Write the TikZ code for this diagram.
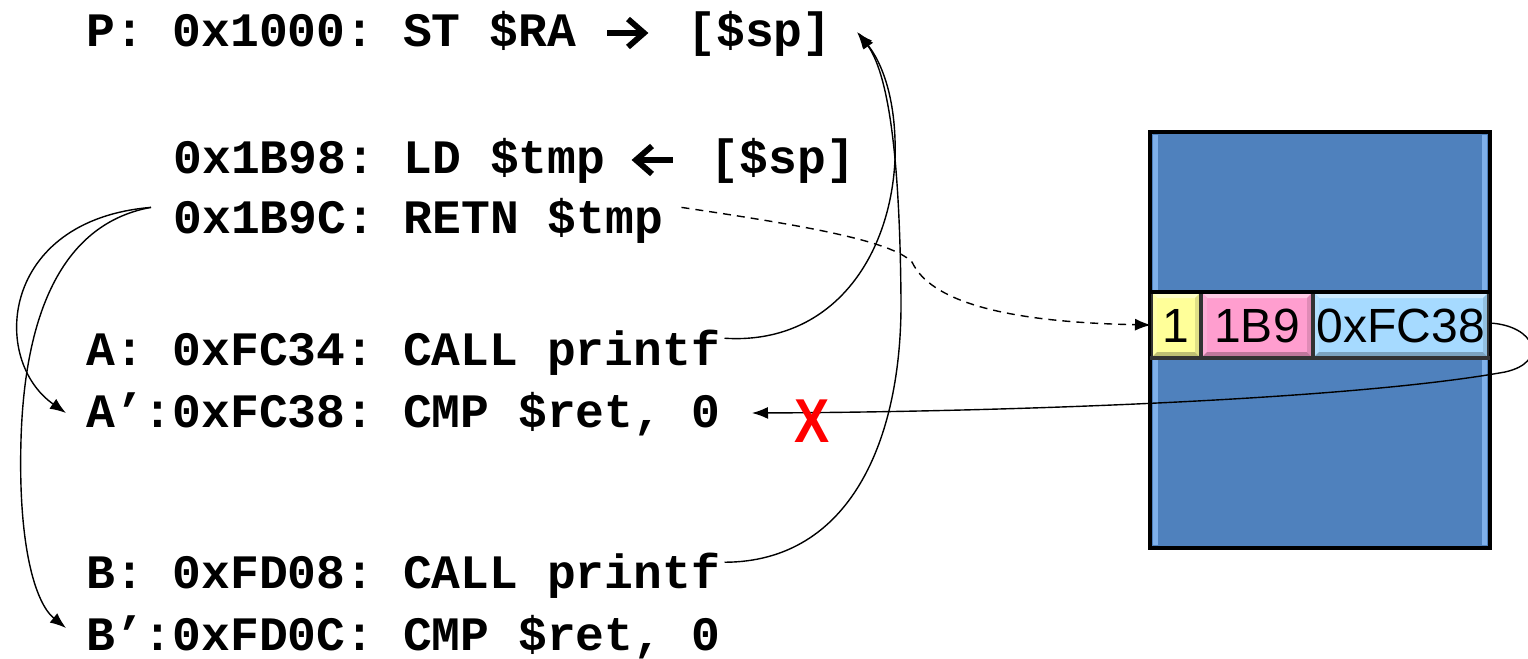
\documentclass[tikz,border=0pt]{standalone}
\usepackage{fontspec}
\setmainfont{Liberation Sans}
\newfontfamily\codefont{Liberation Mono}
\usetikzlibrary{arrows.meta,calc}
\definecolor{stackblue}{HTML}{4F81BD}
\definecolor{stackedge}{HTML}{7FB0EA}
\definecolor{cellyellow}{HTML}{FFFF99}
\definecolor{cellpink}{HTML}{FF9ECF}
\definecolor{cellblue}{HTML}{A6DAFF}
\newcommand{\gap}[1]{\hbox to #1{\hss}}
% bevelled cell: x1 y1 x2 y2 colour
\newcommand{\bevelcell}[5]{%
  \fill[#5] (#1,#2) rectangle (#3,#4);
  \fill[#5!55!white] (#1,#2) -- (#3,#2) -- ($(#3,#2)+(-5,5)$) -- ($(#1,#2)+(5,5)$) -- cycle;
  \fill[#5!85!white] (#1,#2) -- ($(#1,#2)+(5,5)$) -- ($(#1,#4)+(5,-5)$) -- (#1,#4) -- cycle;
  \fill[#5!75!black] (#1,#4) -- (#3,#4) -- ($(#3,#4)+(-5,-5)$) -- ($(#1,#4)+(5,-5)$) -- cycle;
  \fill[#5!88!black] (#3,#2) -- ($(#3,#2)+(-5,5)$) -- ($(#3,#4)+(-5,-5)$) -- (#3,#4) -- cycle;
  \draw[black!80,line width=1.2pt] (#1,#2) rectangle (#3,#4);
}
\begin{document}
\frenchspacing
\begin{tikzpicture}[x=0.5pt,y=-0.5pt,
  code/.style={anchor=base west,inner sep=0pt,font=\codefont\bfseries\fontsize{24}{28}\selectfont},
  celltext/.style={anchor=base,inner sep=0pt,font=\fontsize{24}{28}\selectfont},
  conn/.style={line width=0.7pt},
  glyph/.style={line width=2.9pt,miter limit=10},
  tip/.style={-{Latex[length=8pt,width=6pt]}}]
\useasboundingbox (0,0) rectangle (1528,659);
% code lines
\node[code] (P) at (86,46) {P: 0x1000: ST \$RA \gap{27pt} [\$sp]};
\node[code] (LD) at (173,173) {0x1B98: LD \$tmp \gap{24pt} [\$sp]};
\node[code] (RET) at (173,233) {0x1B9C: RETN \$tmp};
\node[code] (A) at (86,365) {A: 0xFC34: CALL printf};
\node[code] (A2) at (86,427) {A’:0xFC38: CMP \$ret, 0};
\node[code] (B) at (86,588) {B: 0xFD08: CALL printf};
\node[code] (B2) at (86,650) {B’:0xFD0C: CMP \$ret, 0};
% arrow glyphs inside the code text
\draw[glyph] (607,33) -- (642,33);
\draw[glyph] (628,19) -- (644,33) -- (628,47);
\draw[glyph] (638,160) -- (673,160);
\draw[glyph] (652,146) -- (636,160) -- (652,174);
% stack
\draw[fill=stackblue,line width=1.6pt] (1150,132) rectangle (1490,548);
\fill[stackedge] (1153,135) rectangle (1158,545);
\fill[stackedge] (1482,135) rectangle (1487,545);
\bevelcell{1152}{293}{1200}{357}{cellyellow}
\bevelcell{1202}{293}{1312}{357}{cellpink}
\bevelcell{1314}{293}{1488}{357}{cellblue}
\draw[line width=1.6pt] (1150,292) -- (1490,292);
\draw[line width=1.6pt,black!80] (1150,358) -- (1490,358);
\node[celltext] (c1) at (1176,342) {1};
\node[celltext] (c2) at (1257,342) {1B9};
\node[celltext] (c3) at (1401,342) {0xFC38};
\coordinate (c1w) at (1151,325);
\coordinate (c3e) at (1489,323);
% connectors
\draw[conn,tip] (A.east) ++(4,-14) coordinate (Ae)
   .. controls (830,345) and (890,260) .. (895,160)
   .. controls (897,100) and (882,62) .. (857,32) coordinate (Pe);
\draw[conn,tip] (B.east) ++(4,-13) coordinate (Be)
   .. controls (850,562) and (902,440) .. (901,300)
   .. controls (900,180) and (892,80) .. (859,33);
\draw[conn,tip] (RET.west) ++(-22,-13) coordinate (Rw)
   .. controls (0,220) and (-10,360) .. (66,413);
\draw[conn,tip] (Rw)
   .. controls (70,222) and (25,300) .. (21,440)
   .. controls (18,545) and (35,603) .. (66,628);
\draw[conn,dash pattern=on 4pt off 3pt,tip] (RET.east) ++(18,-13)
   .. controls (800,225) and (890,240) .. (912,262)
   .. controls (930,300) and (1000,322) .. (c1w);
\draw[conn,tip] (c3e)
   .. controls (1535,325) and (1550,362) .. (1505,372)
   .. controls (1350,400) and (1000,412) .. (752,413);
% red X
\node[inner sep=0pt,text=red,font=\bfseries\fontsize{31}{33}\selectfont,xscale=0.85] (X) at (812,421) {X};
\end{tikzpicture}
\end{document}
